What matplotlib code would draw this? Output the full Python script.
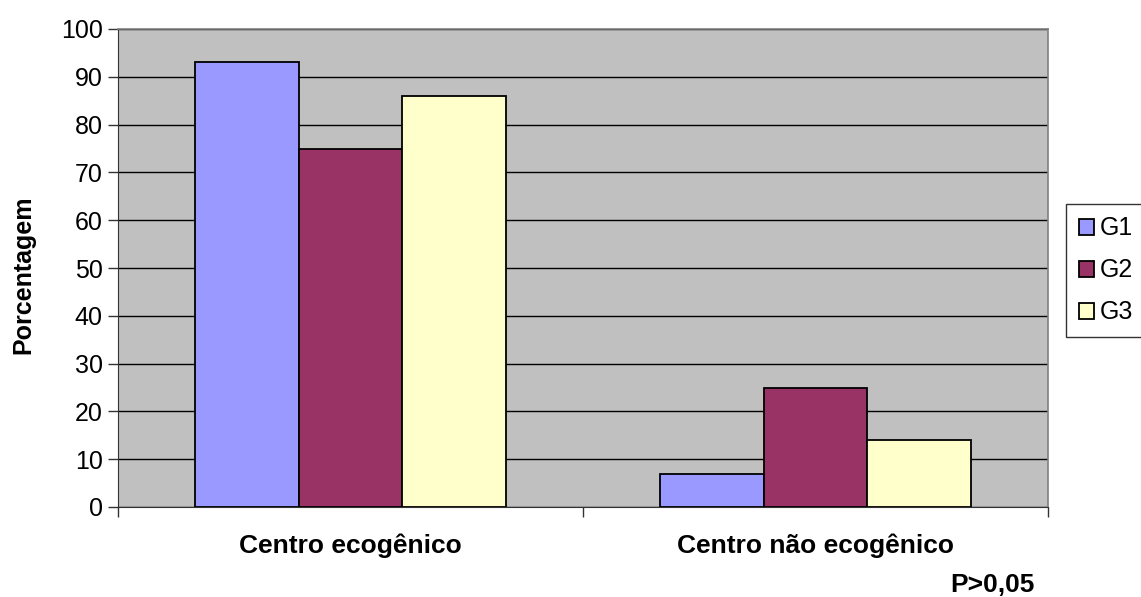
import numpy as np
import matplotlib.pyplot as plt

plt.rcParams['font.family'] = ['Liberation Sans', 'DejaVu Sans']

categorias = ["Centro ecogênico", "Centro não ecogênico"]
grupos = ["G1", "G2", "G3"]
g1 = [93, 7]
g2 = [75, 25]
g3 = [86, 14]
cores = ["#9999FF", "#993366", "#FFFFCC"]

fig = plt.figure(figsize=(11.41, 5.97), dpi=100)
ax = fig.add_axes([118 / 1141, 1 - 507 / 597, (1048 - 118) / 1141, (507 - 29) / 597])
ax.set_facecolor("#C0C0C0")

x = np.arange(len(categorias))
w = 0.223
for i, (vals, nome) in enumerate(zip([g1, g2, g3], grupos)):
    ax.bar(x + (i - 1) * w, vals, w, color=cores[i], edgecolor="black",
           linewidth=1.3, label=nome, zorder=3)

ax.set_ylim(0, 100)
ax.set_xlim(-0.5, 1.5)
ax.set_yticks(range(0, 101, 10))
ax.yaxis.grid(True, color="black", linewidth=1.0, zorder=1)
ax.set_axisbelow(True)

# x ticks sit between the categories, labels centred under them
ax.set_xticks([-0.5, 0.5, 1.5])
ax.set_xticklabels([])
ax.set_xticks(x, minor=True)
ax.set_xticklabels(categorias, minor=True, fontsize=19, fontweight="bold")
ax.tick_params(axis="x", which="minor", length=0, pad=19)
ax.tick_params(axis="x", which="major", length=7, width=1, color="#333333")
ax.tick_params(axis="y", length=7, width=1, labelsize=18, pad=4, color="#333333")

for s in ["top", "right"]:
    ax.spines[s].set_color("#808080")
    ax.spines[s].set_linewidth(1.2)
ax.spines["left"].set_color("#333333")
ax.spines["bottom"].set_color("#333333")

fig.text(23 / 1141, 1 - 275 / 597, "Porcentagem", rotation=90, fontsize=18,
         fontweight="bold", ha="center", va="center")
fig.text(992 / 1141, 1 - 585 / 597, "P>0,05", fontsize=19, fontweight="bold",
         ha="center", va="center")

leg = fig.legend(loc="upper left", bbox_to_anchor=(1066 / 1141, 1 - 204 / 597),
                 fontsize=18, frameon=True, fancybox=False, handlelength=0.6,
                 handleheight=0.6, handletextpad=0.25, labelspacing=0.72,
                 borderpad=0.5, borderaxespad=0)
leg.get_frame().set_edgecolor("black")
leg.get_frame().set_linewidth(1.0)

fig.savefig("out.png", dpi=100)
